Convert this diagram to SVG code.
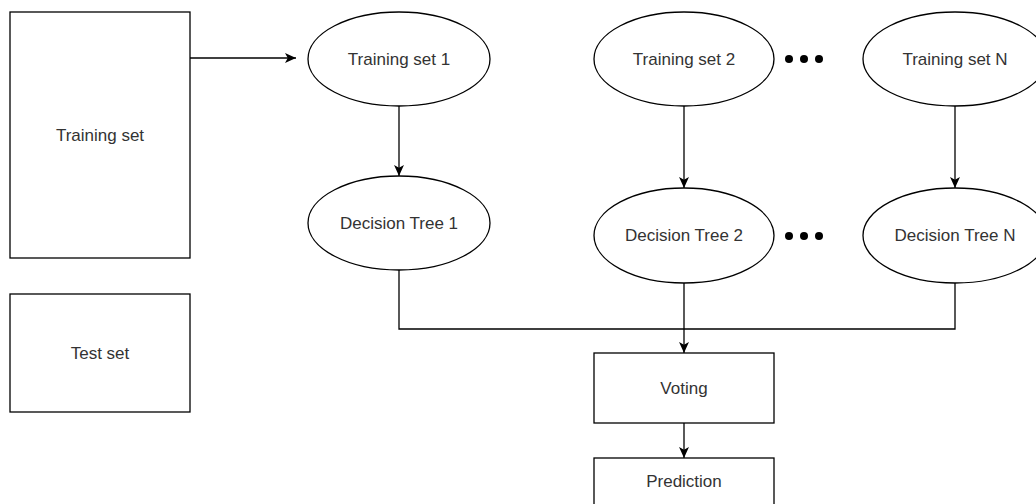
<svg xmlns="http://www.w3.org/2000/svg" width="1036" height="504" viewBox="0 0 1036 504">
<style>
.box{fill:#fff;stroke:#000;stroke-width:1.3}
.lbl{font-family:"Liberation Sans",Arial,sans-serif;font-size:17px;fill:#333;text-anchor:middle}
.edge{fill:none;stroke:#000;stroke-width:1.3}
.dot{fill:#000}
</style>
<defs>
<marker id="arr" viewBox="0 0 10 10" markerWidth="11" markerHeight="11" markerUnits="userSpaceOnUse" refX="10" refY="5" orient="auto">
<path d="M0,0.5 L10,5 L0,9.5 L2.5,5 z" fill="#000"/>
</marker>
</defs>
<rect width="1036" height="504" fill="#fff"/>
<g id="connectors">
<path class="edge" d="M190,58 H296" marker-end="url(#arr)"/>
<path class="edge" d="M399,106 V176" marker-end="url(#arr)"/>
<path class="edge" d="M684,106 V188" marker-end="url(#arr)"/>
<path class="edge" d="M955,106 V188" marker-end="url(#arr)"/>
<path class="edge" d="M399,270 V329 H684"/>
<path class="edge" d="M955,283 V329 H684"/>
<path class="edge" d="M684,283 V353" marker-end="url(#arr)"/>
<path class="edge" d="M684,423 V458" marker-end="url(#arr)"/>
</g>
<g id="training-set"><rect class="box" x="10" y="12" width="180" height="246"/><text class="lbl" x="100" y="140.5">Training set</text></g>
<g id="test-set"><rect class="box" x="10" y="294" width="180" height="118"/><text class="lbl" x="100" y="358.5">Test set</text></g>
<g id="ts1"><ellipse class="box" cx="399" cy="59" rx="91" ry="47"/><text class="lbl" x="399" y="64.5">Training set 1</text></g>
<g id="ts2"><ellipse class="box" cx="684" cy="59" rx="90" ry="47"/><text class="lbl" x="684" y="64.5">Training set 2</text></g>
<g id="tsn"><ellipse class="box" cx="955" cy="59" rx="92" ry="47"/><text class="lbl" x="955" y="64.5">Training set N</text></g>
<g id="dt1"><ellipse class="box" cx="399" cy="223" rx="91" ry="47"/><text class="lbl" x="399" y="228.5">Decision Tree 1</text></g>
<g id="dt2"><ellipse class="box" cx="684" cy="235.5" rx="90" ry="47.5"/><text class="lbl" x="684" y="241">Decision Tree 2</text></g>
<g id="dtn"><ellipse class="box" cx="955" cy="235.5" rx="92" ry="47.5"/><text class="lbl" x="955" y="241">Decision Tree N</text></g>
<g id="dots-top"><circle class="dot" cx="789" cy="59" r="4"/><circle class="dot" cx="804" cy="59" r="4"/><circle class="dot" cx="819" cy="59" r="4"/></g>
<g id="dots-mid"><circle class="dot" cx="789" cy="236" r="4"/><circle class="dot" cx="804" cy="236" r="4"/><circle class="dot" cx="819" cy="236" r="4"/></g>
<g id="voting"><rect class="box" x="594" y="353" width="180" height="70"/><text class="lbl" x="684" y="393.5">Voting</text></g>
<g id="prediction"><rect class="box" x="594" y="458" width="180" height="60"/><text class="lbl" x="684" y="486.5">Prediction</text></g>
</svg>
